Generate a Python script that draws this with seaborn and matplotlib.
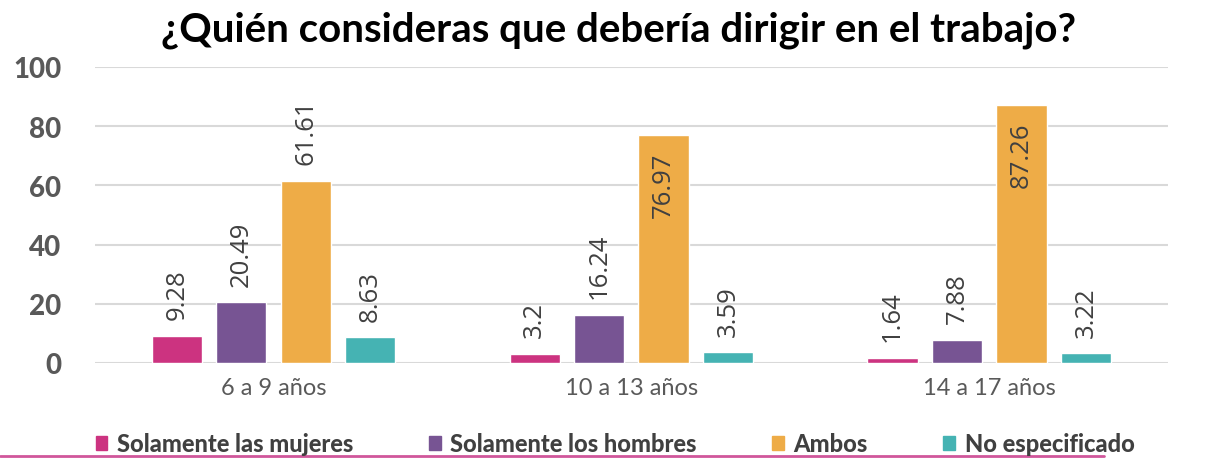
import seaborn as sns
import matplotlib.pyplot as plt
import matplotlib.lines as mlines
import pandas as pd

grupos = ["6 a 9 años", "10 a 13 años", "14 a 17 años"]
respuestas = ["Solamente las mujeres", "Solamente los hombres", "Ambos", "No especificado"]
mujeres = [9.28, 3.2, 1.64]
hombres = [20.49, 16.24, 7.88]
ambos = [61.61, 76.97, 87.26]
no_esp = [8.63, 3.59, 3.22]
colores = ["#CC3380", "#775493", "#EEAC47", "#45B3B3"]

rows = []
for resp, vals in zip(respuestas, [mujeres, hombres, ambos, no_esp]):
    for g, v in zip(grupos, vals):
        rows.append({"grupo": g, "respuesta": resp, "valor": v})
df = pd.DataFrame(rows)

sns.set_style("white")
plt.rcParams["font.family"] = ["Lato", "DejaVu Sans"]

fig = plt.figure(figsize=(12.13, 4.6), dpi=100)
ax = fig.add_axes([0.078, 0.2087, 0.885, 0.6435])

sns.barplot(data=df, x="grupo", y="valor", hue="respuesta", order=grupos,
            hue_order=respuestas, palette=colores, width=0.72, gap=0.22,
            saturation=1, ax=ax, legend=False)

# tall bars get their label inside the top of the bar, the rest above
for cont in ax.containers:
    for bar, v in zip(cont.patches, cont.datavalues):
        x = bar.get_x() + bar.get_width() / 2
        inside = v > 70
        ax.annotate(f"{v:g}", (x, bar.get_height()),
                    xytext=(0, -12 if inside else 12), textcoords="offset points",
                    rotation=90, ha="center", va="top" if inside else "bottom",
                    fontsize=18.5, color="#404040",
                    family=["Open Sans", "DejaVu Sans"])

ax.set_ylim(0, 100)
ax.set_xlim(-0.5, 2.5)
ax.set_yticks([0, 20, 40, 60, 80, 100])
ax.yaxis.grid(True, color="#D9D9D9", linewidth=1.5)
ax.set_axisbelow(True)
for s in ax.spines.values():
    s.set_visible(False)
ax.tick_params(axis="both", length=0)
ax.tick_params(axis="y", labelsize=20, labelcolor="#595959", pad=24)
ax.tick_params(axis="x", labelsize=17, labelcolor="#595959", pad=10)
for t in ax.get_yticklabels():
    t.set_fontweight("black")
ax.set_xlabel("")
ax.set_ylabel("")

fig.suptitle("¿Quién consideras que debería dirigir en el trabajo?",
             x=0.51, y=0.975, fontsize=29, fontweight="bold", color="black")

handles = [plt.Rectangle((0, 0), 1, 1, color=c) for c in colores]
leg = fig.legend(handles, respuestas, loc="center", bbox_to_anchor=(0.507, 0.033),
                 ncol=4, frameon=False, handlelength=0.5,
                 handleheight=0.5, handletextpad=0.4, columnspacing=3.2,
                 prop={"weight": "black", "size": 17})
for t in leg.get_texts():
    t.set_color("#404040")

fig.add_artist(mlines.Line2D([0, 0.91], [0.006, 0.006], color="#D0569B",
                             linewidth=2, transform=fig.transFigure))

fig.savefig("out.png", dpi=100)
